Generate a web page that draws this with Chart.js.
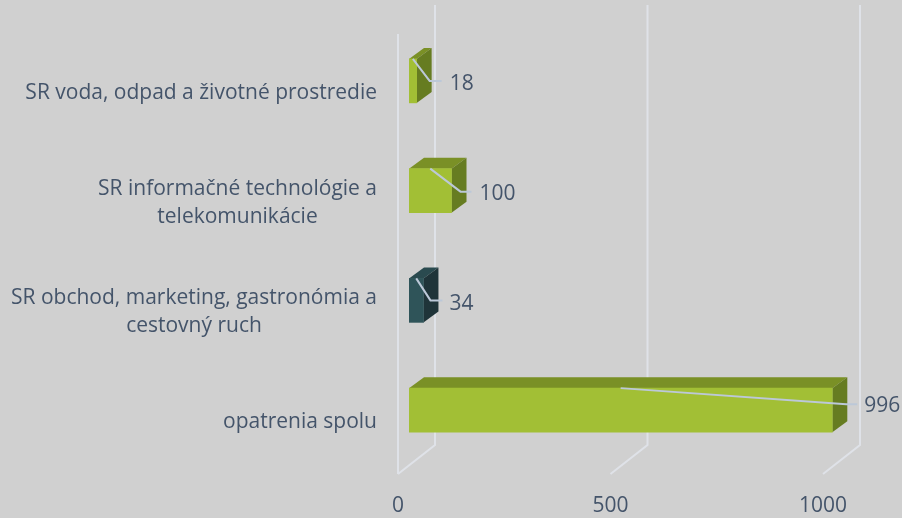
<!DOCTYPE html>
<html>
<head>
<meta charset="utf-8">
<title>Opatrenia</title>
<script src="https://cdn.jsdelivr.net/npm/chart.js@4/dist/chart.umd.min.js"></script>
<style>
    html, body { margin: 0; padding: 0; background: #d0d0d0; }
    canvas { display: block; }
</style>
</head>
<body>
<canvas id="chart" width="902" height="518"></canvas>
<script>
// Chart values
const categories = [
    ['SR voda, odpad a životné prostredie'],
    ['SR informačné technológie a', 'telekomunikácie'],
    ['SR obchod, marketing, gastronómia a', 'cestovný ruch'],
    ['opatrenia spolu']
];
const values = [18, 100, 34, 996];
const xTicks = [0, 500, 1000];

// Bar colours: front, top, side
const frontColors = ['#a2bf35', '#a2bf35', '#2f5459', '#a2bf35'];
const topColors = ['#7a9026', '#7a9026', '#2a4a4f', '#7a9026'];
const sideColors = ['#667c21', '#667c21', '#1f3439', '#667c21'];

const textColor = '#44546a';
const gridColor = '#dfe2e8';
const leaderColor = '#bcc8d8';
const fontFamily = '"Open Sans", sans-serif';
const fontSize = 21;

// 3D look
const depthX = 15, depthY = 11;     // bar depth
const wallX = 26;                   // back wall, from the bars' zero line
const frontGap = 11;                // front plane is left of the bars
const floorY = 474, wallTop = 5, frontTop = 34;

// Leader lines, relative to the end of each bar
const leaders = [
    { elbow: 13, end: 25, dy: 0, label: 33, labelDy: 2 },
    { elbow: 9, end: 20, dy: 1, label: 28, labelDy: 1 },
    { elbow: 7, end: 19, dy: 0, label: 26, labelDy: 3 },
    { elbow: 14, end: 25, dy: -6, label: 32, labelDy: 1 }
];

function drawFace(ctx, points, color) {
    ctx.fillStyle = color;
    ctx.beginPath();
    points.forEach((p, i) => i ? ctx.lineTo(p[0], p[1]) : ctx.moveTo(p[0], p[1]));
    ctx.closePath();
    ctx.fill();
}

const backdrop = {
    id: 'backdrop',
    beforeDatasetsDraw(chart) {
        const ctx = chart.ctx;
        const x = chart.scales.x;
        const backY = floorY - 29;
        ctx.save();
        ctx.strokeStyle = gridColor;
        ctx.lineWidth = 2;

        // walls and floor lines
        xTicks.forEach(tick => {
            const px = x.getPixelForValue(tick);
            ctx.beginPath();
            ctx.moveTo(px - frontGap, floorY);
            ctx.lineTo(px + wallX, backY);
            ctx.lineTo(px + wallX, wallTop);
            ctx.stroke();
        });
        const zero = x.getPixelForValue(0) - frontGap;
        ctx.beginPath();
        ctx.moveTo(zero, floorY);
        ctx.lineTo(zero, frontTop);
        ctx.stroke();

        // top and side faces of the bars
        chart.getDatasetMeta(0).data.forEach((bar, i) => {
            const top = bar.y - bar.height / 2;
            const bottom = bar.y + bar.height / 2;
            drawFace(ctx, [[bar.base, top], [bar.base + depthX, top - depthY], [bar.x + depthX, top - depthY], [bar.x, top]], topColors[i]);
            drawFace(ctx, [[bar.x, top], [bar.x + depthX, top - depthY], [bar.x + depthX, bottom - depthY], [bar.x, bottom]], sideColors[i]);
        });
        ctx.restore();
    },
    afterDatasetsDraw(chart) {
        const ctx = chart.ctx;
        ctx.save();
        ctx.font = fontSize + 'px ' + fontFamily;
        ctx.textBaseline = 'middle';

        chart.getDatasetMeta(0).data.forEach((bar, i) => {
            const lead = leaders[i];
            const top = bar.y - bar.height / 2;
            const y = bar.y + lead.dy;

            ctx.strokeStyle = leaderColor;
            ctx.lineWidth = 2;
            ctx.beginPath();
            ctx.moveTo((bar.base + bar.x) / 2, top);
            ctx.lineTo(bar.x + lead.elbow, y);
            ctx.lineTo(bar.x + lead.end, y);
            ctx.stroke();

            ctx.fillStyle = textColor;
            ctx.textAlign = 'left';
            ctx.fillText(String(values[i]), bar.x + lead.label, y + 1 + lead.labelDy);

            // category label, lines centered inside a right aligned block
            const lines = categories[i];
            const widest = Math.max(...lines.map(l => ctx.measureText(l).width));
            const cx = 377 - widest / 2;
            const lineHeight = 28;
            const firstY = bar.y + 12 - (lines.length - 1) * lineHeight / 2;
            ctx.textAlign = 'center';
            lines.forEach((l, n) => ctx.fillText(l, cx, firstY + n * lineHeight));
        });
        ctx.restore();
    }
};

new Chart(document.getElementById('chart'), {
    type: 'bar',
    data: {
        labels: categories,
        datasets: [{
            data: values,
            backgroundColor: frontColors,
            barThickness: 44
        }]
    },
    options: {
        indexAxis: 'y',
        responsive: false,
        animation: false,
        layout: { padding: { top: 26, right: 68, bottom: 0, left: 0 } },
        plugins: { legend: { display: false }, tooltip: { enabled: false } },
        scales: {
            x: {
                min: 0,
                max: 1000,
                grid: { display: false },
                border: { display: false },
                afterFit(scale) {
                    scale.height = 53;
                    scale.paddingLeft = 0;
                    scale.paddingRight = 0;
                },
                afterBuildTicks(scale) {
                    scale.ticks = xTicks.map(value => ({ value }));
                },
                ticks: {
                    color: textColor,
                    font: { family: fontFamily, size: fontSize },
                    labelOffset: -frontGap,
                    padding: 20,
                    maxRotation: 0,
                    autoSkip: false,
                    callback: value => String(value)
                }
            },
            y: {
                grid: { display: false },
                border: { display: false },
                ticks: { display: false },
                afterFit(scale) {
                    scale.width = 409;
                }
            }
        }
    },
    plugins: [backdrop]
});
</script>
</body>
</html>
